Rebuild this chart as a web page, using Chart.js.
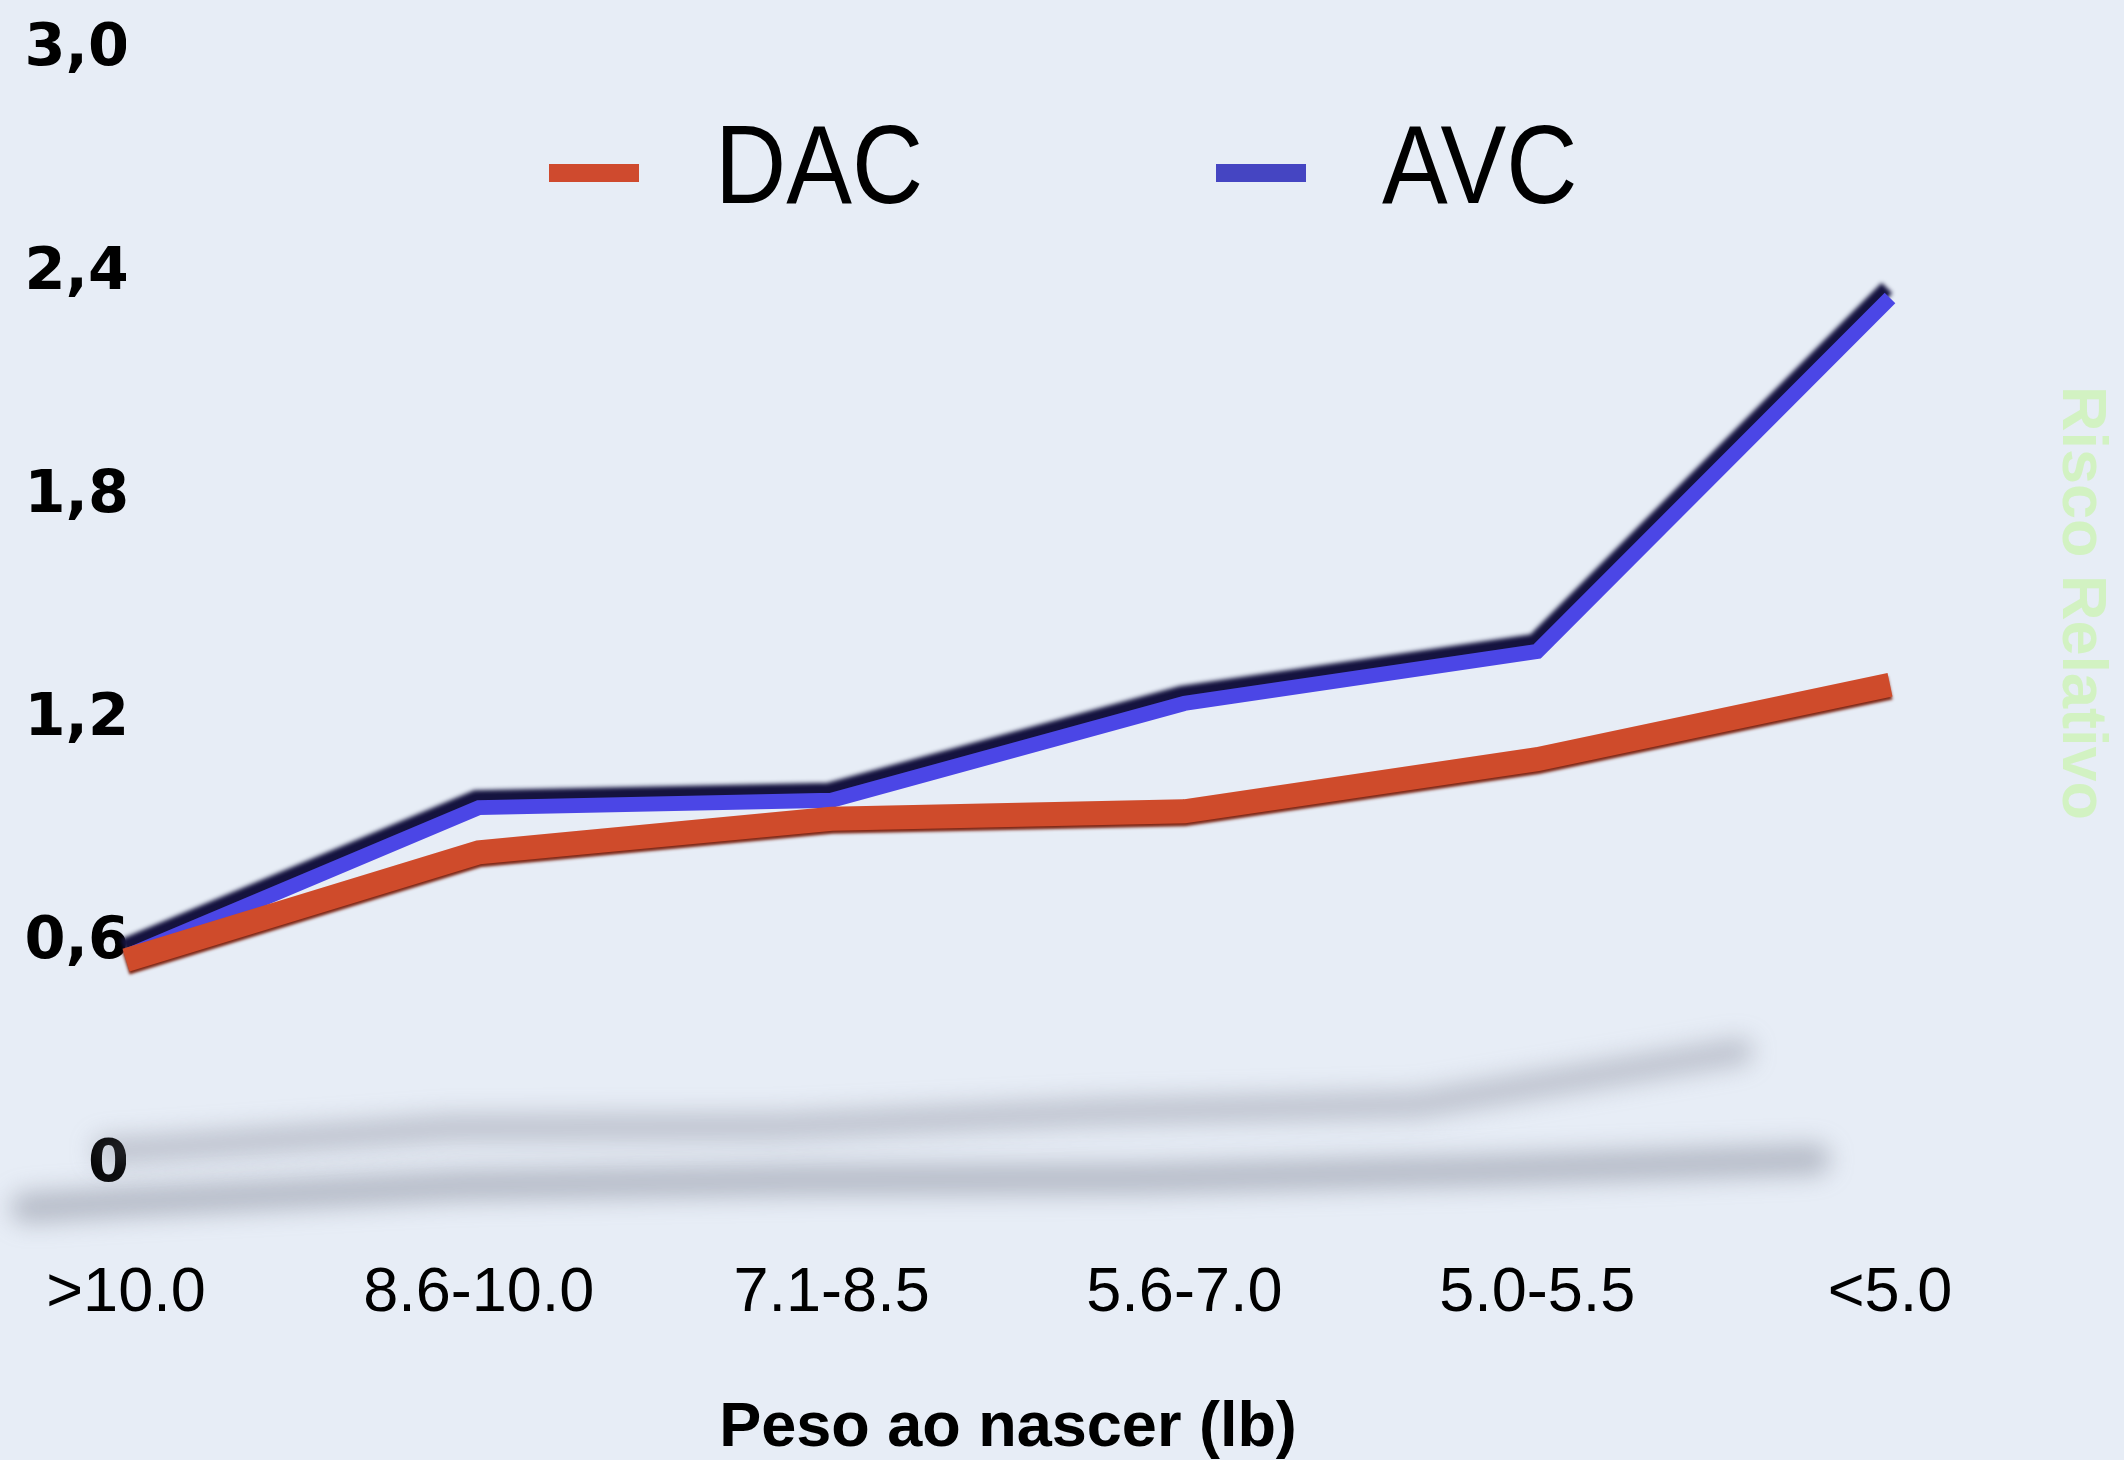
<!DOCTYPE html>
<html>
<head>
<meta charset="utf-8">
<script src="https://cdn.jsdelivr.net/npm/chart.js@4.4.0/dist/chart.umd.min.js"></script>
<style>
  html, body { margin: 0; padding: 0; background: #e7edf6; }
  #wrap { width: 2124px; height: 1460px; }
</style>
</head>
<body>
<div id="wrap"><canvas id="myChart"></canvas></div>
<script>
const categories = [">10.0", "8.6-10.0", "7.1-8.5", "5.6-7.0", "5.0-5.5", "<5.0"];
const dacValues = [0.54, 0.83, 0.92, 0.94, 1.08, 1.28];
const avcValues = [0.55, 0.95, 0.97, 1.23, 1.37, 2.32];
const yTicks = [0, 0.6, 1.2, 1.8, 2.4, 3.0];
const yTickLabels = ["0", "0,6", "1,2", "1,8", "2,4", "3,0"];

const sans = "'Liberation Sans', Arial, sans-serif";

// background, floor shadows and the dark "3d" edge of each line
const depthLook = {
  id: "depthLook",
  beforeDraw(chart) {
    const ctx = chart.ctx;
    ctx.save();
    ctx.fillStyle = "#e7edf6";
    ctx.fillRect(0, 0, chart.width, chart.height);
    ctx.restore();
  },
  beforeDatasetsDraw(chart) {
    const ctx = chart.ctx;
    const zeroY = chart.scales.y.getPixelForValue(0);
    const floor = [
      { i: 0, base: 72, k: 0.155, shift: 15, w: 30, a: 0.42 },
      { i: 1, base: 20, k: 0.15, shift: 30, w: 26, a: 0.36 }
    ];
    ctx.save();
    ctx.filter = "blur(12px)";
    ctx.lineCap = "round";
    ctx.lineJoin = "round";
    floor.forEach(f => {
      const pts = chart.getDatasetMeta(f.i).data;
      ctx.beginPath();
      pts.forEach((p, j) => {
        const y = zeroY + f.base - (zeroY - p.y) * f.k;
        const x = p.x - j * f.shift;
        if (j === 0) {
          ctx.moveTo(x - (f.i === 0 ? 100 : 20), y + (f.i === 0 ? 6 : 0));
          ctx.lineTo(x, y);
        } else ctx.lineTo(x, y);
      });
      ctx.strokeStyle = "rgba(110,115,130," + f.a + ")";
      ctx.lineWidth = f.w;
      ctx.stroke();
    });
    ctx.restore();
  },
  beforeDatasetDraw(chart, args) {
    const ds = chart.data.datasets[args.index];
    const ctx = chart.ctx;
    ctx.save();
    ctx.shadowColor = ds.edgeColor;
    ctx.shadowOffsetX = ds.edgeX;
    ctx.shadowOffsetY = ds.edgeY;
    ctx.shadowBlur = ds.edgeBlur;
  },
  afterDatasetDraw(chart) {
    chart.ctx.restore();
  }
};

// legend sits inside the plot, so it is drawn by hand
const innerLegend = {
  id: "innerLegend",
  afterDatasetsDraw(chart) {
    const ctx = chart.ctx;
    const spots = [549, 1216];
    ctx.save();
    ctx.font = "112px " + sans;
    ctx.textBaseline = "middle";
    chart.data.datasets.forEach((ds, i) => {
      const x = spots[i];
      ctx.fillStyle = ds.legendColor;
      ctx.fillRect(x, 164, 90, 18);
      ctx.save();
      ctx.translate(x + 166, 172);
      ctx.scale(0.88, 1);
      ctx.fillStyle = "#000";
      ctx.fillText(ds.label, 0, 0);
      ctx.restore();
    });
    ctx.restore();
  }
};

const ctx = document.getElementById("myChart");

new Chart(ctx, {
  type: "line",
  data: {
    labels: categories,
    datasets: [
      {
        label: "DAC",
        data: dacValues,
        borderColor: "#cf4b2b",
        legendColor: "#cf4a2e",
        edgeColor: "#7d2412",
        edgeX: 0,
        edgeY: 3,
        edgeBlur: 3,
        borderWidth: 24,
        borderJoinStyle: "miter",
        pointRadius: 0,
        tension: 0,
        clip: false
      },
      {
        label: "AVC",
        data: avcValues,
        borderColor: "#4b46e6",
        legendColor: "#4545c2",
        edgeColor: "#15133f",
        edgeX: -3,
        edgeY: -10,
        edgeBlur: 4,
        borderWidth: 15,
        borderJoinStyle: "miter",
        pointRadius: 0,
        tension: 0,
        clip: false
      }
    ]
  },
  options: {
    responsive: true,
    maintainAspectRatio: false,
    animation: false,
    layout: { padding: { top: 45, left: 0, right: 0, bottom: 0 } },
    plugins: {
      legend: { display: false },
      tooltip: { enabled: false }
    },
    scales: {
      x: {
        offset: false,
        grid: { display: false, drawTicks: true, tickLength: 92 },
        border: { display: false },
        ticks: {
          color: "#000",
          font: { family: sans, size: 63 },
          padding: 3,
          maxRotation: 0,
          autoSkip: false
        },
        title: {
          display: true,
          text: "Peso ao nascer (lb)",
          color: "#000",
          font: { family: sans, size: 63, weight: "bold", lineHeight: 1 },
          padding: { top: 0, bottom: 0 }
        },
        afterFit(scale) { scale.height = 299; }
      },
      y: {
        min: 0,
        max: 3,
        grid: { display: false, drawTicks: false },
        border: { display: false },
        afterBuildTicks(scale) { scale.ticks = yTicks.map(v => ({ value: v })); },
        ticks: {
          color: "#000",
          padding: -3,
          labelOffset: 5,
          font: { family: "'DejaVu Sans', sans-serif", size: 59, weight: "bold" },
          callback: (value, index) => yTickLabels[index]
        },
        afterFit(scale) { scale.width = 126; }
      },
      y2: {
        position: "right",
        min: 0,
        max: 3,
        grid: { display: false, drawTicks: false },
        border: { display: false },
        ticks: { display: false },
        title: {
          display: true,
          text: "Risco Relativo",
          color: "#d2f2c2",
          font: { family: sans, size: 63, weight: "bold" },
          padding: { top: 6, bottom: 0 }
        },
        afterFit(scale) { scale.width = 234; }
      }
    }
  },
  plugins: [depthLook, innerLegend]
});
</script>
</body>
</html>
